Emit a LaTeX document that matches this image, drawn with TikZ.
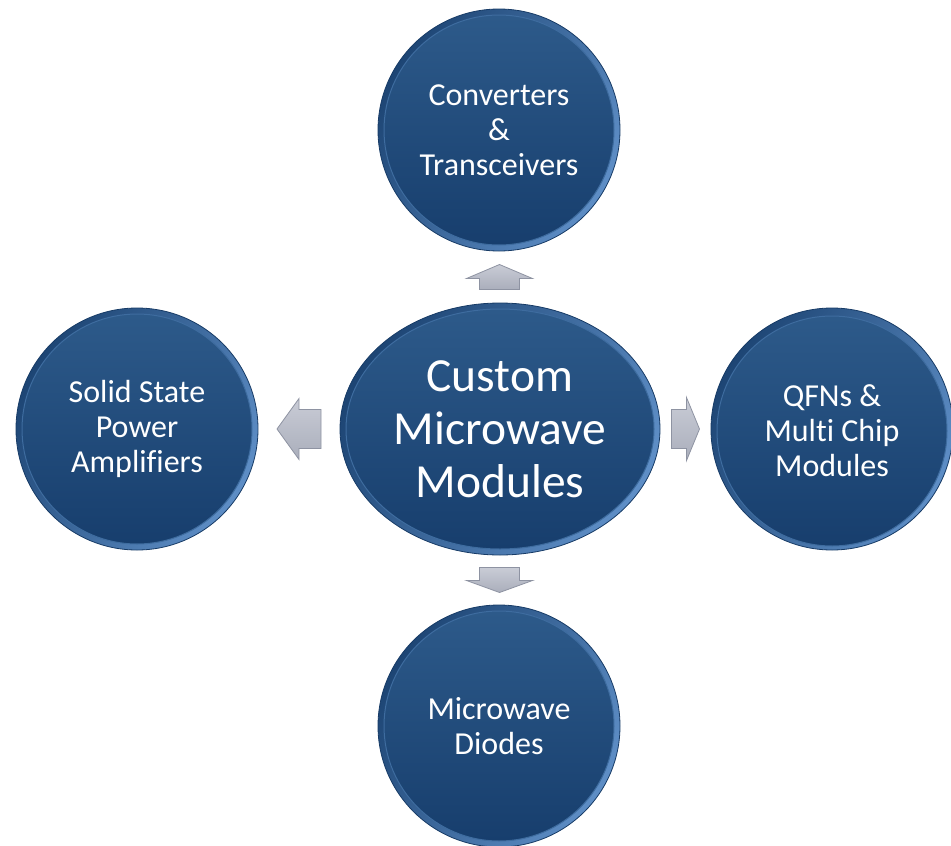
\documentclass[tikz,border=0pt]{standalone}
\usepackage{fontspec}
\setmainfont[Ligatures=NoCommon]{Carlito}
\usetikzlibrary{shapes.geometric,calc}
\definecolor{rimdark}{HTML}{1D4574}
\definecolor{rimlight}{HTML}{5E8EC6}
\definecolor{rimedge}{HTML}{173B66}
\definecolor{coretop}{HTML}{2D5A8A}
\definecolor{corebot}{HTML}{173E6D}
\definecolor{coreedge}{HTML}{3E6C9F}
\definecolor{arrtop}{HTML}{C9CCD6}
\definecolor{arrbot}{HTML}{AAAEBB}
\definecolor{arredge}{HTML}{8E93A2}
\tikzset{
  rim/.style={circle, minimum size=242pt, inner sep=0pt, draw=rimedge, line width=0.8pt,
    shading=axis, left color=rimdark, right color=rimlight, shading angle=60},
  core/.style={circle, minimum size=230pt, inner sep=0pt, draw=coreedge, line width=1pt,
    top color=coretop, bottom color=corebot, text=white, align=center,
    font=\fontsize{32}{35}\selectfont},
  rimell/.style={ellipse, minimum width=320pt, minimum height=252pt, inner sep=0pt,
    draw=rimedge, line width=0.8pt,
    shading=axis, left color=rimdark, right color=rimlight, shading angle=60},
  coreell/.style={ellipse, minimum width=308pt, minimum height=240pt, inner sep=0pt,
    draw=coreedge, line width=1pt,
    top color=coretop, bottom color=corebot, text=white, align=center,
    font=\fontsize{47.5}{53}\selectfont},
  blockarrow/.style={draw=arredge, line width=0.8pt, line join=miter,
    top color=arrtop, bottom color=arrbot}
}
\begin{document}
\begin{tikzpicture}[x=1pt,y=-1pt]
\useasboundingbox (0,0) rectangle (951,846);
% center
\node[rimell] (cR) at (500,429) {};
\node[coreell] (center) at (cR) {Custom\\Microwave\\Modules};
% satellites
\node[rim] (tR) at (499,130) {};
\node[core] (top) at (tR) {Converters\\\&\\Transceivers};
\node[rim] (lR) at (137,429) {};
\node[core] (left) at (lR) {Solid State\\Power\\Amplifiers};
\node[rim] (rR) at (832,429) {};
\node[core] (right) at ([yshift=-2pt]rR.center) {QFNs \&\\Multi Chip\\Modules};
\node[rim] (bR) at (499,726) {};
\node[core] (bottom) at (bR) {Microwave\\Diodes};
% arrow anchors
\coordinate (aU) at ($(cR.north)!0.5!(tR.south)$);
\coordinate (aL) at ($(cR.west)!0.5!(lR.east)$);
\coordinate (aR) at ($(cR.east)!0.5!(rR.west)$);
\coordinate (aD) at ($(cR.south)!0.5!(bR.north)$);
% up
\draw[blockarrow] (aU) ++(-20,12.5) -- ++(0,-11) -- ++(-13,0) -- ++(33,-14) -- ++(33,14) -- ++(-13,0) -- ++(0,11) -- cycle;
% down
\draw[blockarrow] (aD) ++(-20,-12.5) -- ++(0,13) -- ++(-13,0) -- ++(33,12) -- ++(33,-12) -- ++(-13,0) -- ++(0,-13) -- cycle;
% left
\draw[blockarrow] (aL) ++(22,-19.5) -- ++(-22,0) -- ++(0,-11) -- ++(-22,30.5) -- ++(22,30.5) -- ++(0,-11) -- ++(22,0) -- cycle;
% right
\draw[blockarrow] (aR) ++(-14,-19.5) -- ++(15,0) -- ++(0,-12) -- ++(13,31.5) -- ++(-13,31.5) -- ++(0,-12) -- ++(-15,0) -- cycle;
\end{tikzpicture}
\end{document}
